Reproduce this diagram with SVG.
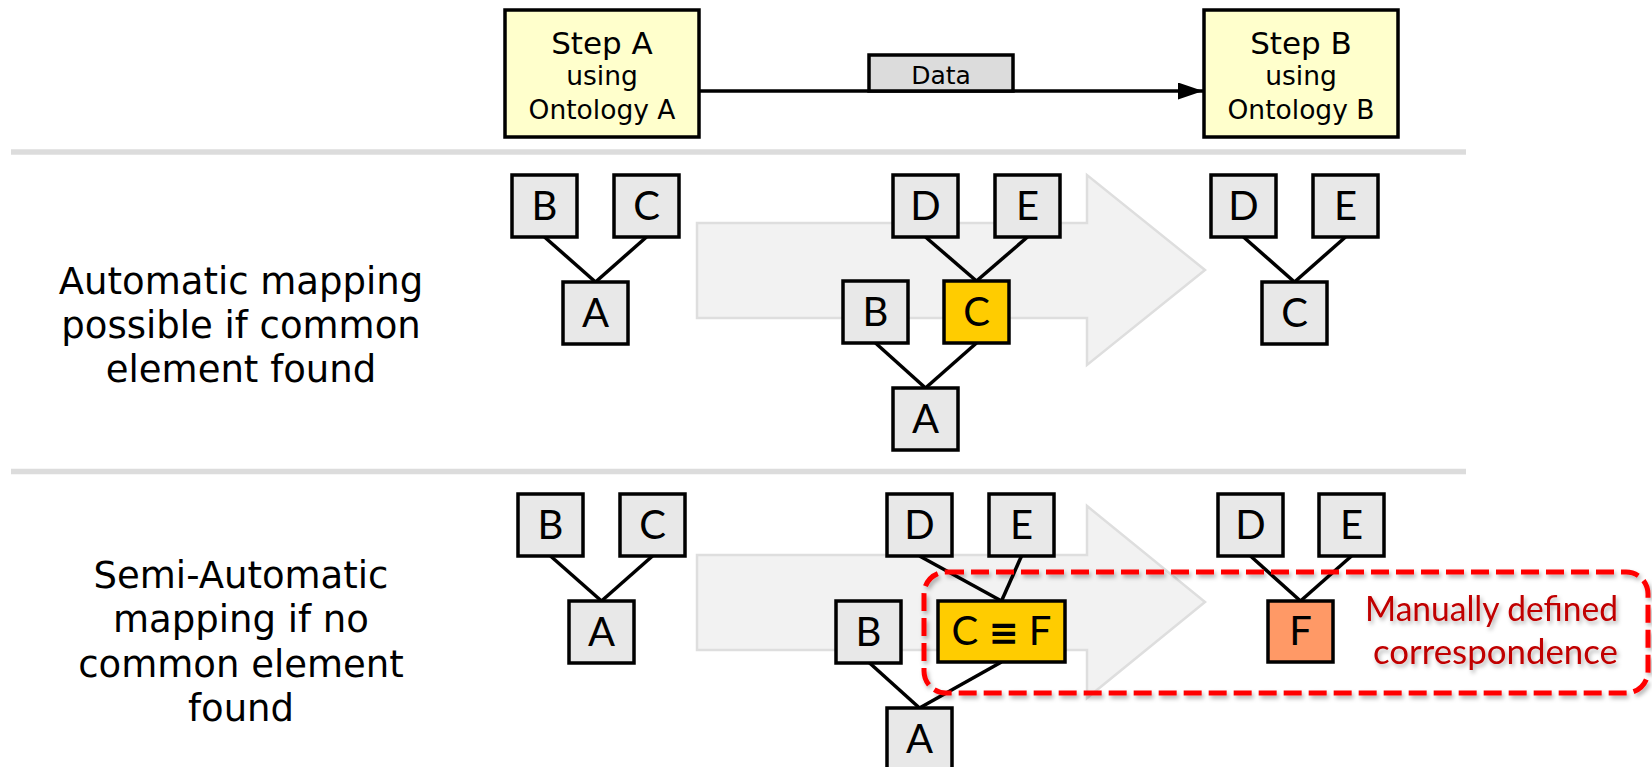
<svg xmlns="http://www.w3.org/2000/svg" width="1652" height="767" viewBox="0 0 1652 767">
<defs>
<style>
.step{fill:#ffffcc;stroke:#000;stroke-width:3.5}
.data{fill:#dcdcdc;stroke:#000;stroke-width:3.5}
.box{fill:#e8e8e8;stroke:#000;stroke-width:3.5}
.yel{fill:#ffcc00;stroke:#000;stroke-width:3.5}
.sal{fill:#ff9966;stroke:#000;stroke-width:3.5}
.sep{stroke:#dcdcdc;stroke-width:5.5}
.big{fill:#f2f2f2;stroke:#dedede;stroke-width:2.5}
.ln{stroke:#000;stroke-width:3.5;fill:none}
.dv{font-family:"DejaVu Sans","Liberation Sans",sans-serif;fill:#000;text-anchor:middle}
.lt{font-family:Lato,"Open Sans","DejaVu Sans",sans-serif;fill:#000;text-anchor:middle;font-size:40px}
.eq{font-family:"DejaVu Sans",sans-serif;font-weight:bold;font-size:36px}
.red{font-family:Lato,"Open Sans","DejaVu Sans",sans-serif;fill:#c00000;text-anchor:end;font-size:34px}
</style>
<marker id="ah" markerWidth="25" markerHeight="17" refX="25" refY="8.5" orient="auto" markerUnits="userSpaceOnUse">
<path d="M0,0 L25,8.5 L0,17 Z" fill="#000"/>
</marker>
<filter id="sh" x="-5%" y="-20%" width="110%" height="140%">
<feDropShadow dx="2" dy="3" stdDeviation="2" flood-color="#000" flood-opacity="0.3"/>
</filter>
</defs>
<rect width="1652" height="767" fill="#fff"/>

<g id="separators">
<line class="sep" x1="11" y1="152" x2="1466" y2="152"/>
<line class="sep" x1="11" y1="471.5" x2="1466" y2="471.5"/>
</g>

<g id="labels">
<text class="dv" font-size="37" x="241" y="294">Automatic mapping</text>
<text class="dv" font-size="37" x="241" y="338">possible if common</text>
<text class="dv" font-size="37" x="241" y="382">element found</text>
<text class="dv" font-size="37" x="241" y="588">Semi-Automatic</text>
<text class="dv" font-size="37" x="241" y="632">mapping if no</text>
<text class="dv" font-size="37" x="241" y="677">common element</text>
<text class="dv" font-size="37" x="241" y="721">found</text>
</g>

<g id="big-arrows">
<polygon class="big" points="697,223 1087,223 1087,175 1205,270 1087,365 1087,318 697,318"/>
<polygon class="big" points="697,555 1087,555 1087,506 1205,602 1087,698 1087,650 697,650"/>
</g>

<g id="connectors">
<line class="ln" x1="699" y1="91" x2="1203" y2="91" marker-end="url(#ah)"/>
<line class="ln" x1="544.5" y1="237" x2="595.5" y2="282"/>
<line class="ln" x1="646.5" y1="237" x2="595.5" y2="282"/>
<line class="ln" x1="925.5" y1="237" x2="976.5" y2="281"/>
<line class="ln" x1="1027.5" y1="237" x2="976.5" y2="281"/>
<line class="ln" x1="875.5" y1="343" x2="925.5" y2="388"/>
<line class="ln" x1="976.5" y1="343" x2="925.5" y2="388"/>
<line class="ln" x1="1243.5" y1="237" x2="1294.5" y2="282"/>
<line class="ln" x1="1345.5" y1="237" x2="1294.5" y2="282"/>
<line class="ln" x1="550.5" y1="556" x2="601.5" y2="601"/>
<line class="ln" x1="652.5" y1="556" x2="601.5" y2="601"/>
<line class="ln" x1="919.5" y1="556" x2="1001.5" y2="601"/>
<line class="ln" x1="1021.5" y1="556" x2="1001.5" y2="601"/>
<line class="ln" x1="868.5" y1="662" x2="919.5" y2="708"/>
<line class="ln" x1="1001.5" y1="662" x2="919.5" y2="708"/>
<line class="ln" x1="1250.5" y1="556" x2="1300.5" y2="601"/>
<line class="ln" x1="1351.5" y1="556" x2="1300.5" y2="601"/>
</g>

<g id="stepA">
<rect class="step" x="505" y="10" width="194" height="127"/>
<text class="dv" font-size="31" x="602" y="54">Step A</text>
<text class="dv" font-size="26.5" x="602" y="85">using</text>
<text class="dv" font-size="26.5" x="602" y="119">Ontology A</text>
</g>
<g id="stepB">
<rect class="step" x="1204" y="10" width="194" height="127"/>
<text class="dv" font-size="31" x="1301" y="54">Step B</text>
<text class="dv" font-size="26.5" x="1301" y="85">using</text>
<text class="dv" font-size="26.5" x="1301" y="119">Ontology B</text>
</g>
<g id="data">
<rect class="data" x="869" y="55" width="144" height="36"/>
<text class="dv" font-size="25" x="941" y="84">Data</text>
</g>

<g id="s2-left">
<g id="s2l-B"><rect class="box" x="512" y="175" width="65" height="62"/><text class="lt" x="544.5" y="220">B</text></g>
<g id="s2l-C"><rect class="box" x="614" y="175" width="65" height="62"/><text class="lt" x="646.5" y="220">C</text></g>
<g id="s2l-A"><rect class="box" x="563" y="282" width="65" height="62"/><text class="lt" x="595.5" y="327">A</text></g>
</g>
<g id="s2-mid">
<g id="s2m-D"><rect class="box" x="893" y="175" width="65" height="62"/><text class="lt" x="925.5" y="220">D</text></g>
<g id="s2m-E"><rect class="box" x="995" y="175" width="65" height="62"/><text class="lt" x="1027.5" y="220">E</text></g>
<g id="s2m-B"><rect class="box" x="843" y="281" width="65" height="62"/><text class="lt" x="875.5" y="326">B</text></g>
<g id="s2m-C"><rect class="yel" x="944" y="281" width="65" height="62"/><text class="lt" x="976.5" y="326">C</text></g>
<g id="s2m-A"><rect class="box" x="893" y="388" width="65" height="62"/><text class="lt" x="925.5" y="433">A</text></g>
</g>
<g id="s2-right">
<g id="s2r-D"><rect class="box" x="1211" y="175" width="65" height="62"/><text class="lt" x="1243.5" y="220">D</text></g>
<g id="s2r-E"><rect class="box" x="1313" y="175" width="65" height="62"/><text class="lt" x="1345.5" y="220">E</text></g>
<g id="s2r-C"><rect class="box" x="1262" y="282" width="65" height="62"/><text class="lt" x="1294.5" y="327">C</text></g>
</g>

<g id="s3-left">
<g id="s3l-B"><rect class="box" x="518" y="494" width="65" height="62"/><text class="lt" x="550.5" y="539">B</text></g>
<g id="s3l-C"><rect class="box" x="620" y="494" width="65" height="62"/><text class="lt" x="652.5" y="539">C</text></g>
<g id="s3l-A"><rect class="box" x="569" y="601" width="65" height="62"/><text class="lt" x="601.5" y="646">A</text></g>
</g>
<g id="s3-mid">
<g id="s3m-D"><rect class="box" x="887" y="494" width="65" height="62"/><text class="lt" x="919.5" y="539">D</text></g>
<g id="s3m-E"><rect class="box" x="989" y="494" width="65" height="62"/><text class="lt" x="1021.5" y="539">E</text></g>
<g id="s3m-B"><rect class="box" x="836" y="601" width="65" height="62"/><text class="lt" x="868.5" y="646">B</text></g>
<g id="s3m-CF"><rect class="yel" x="938" y="601" width="127" height="61"/><text class="lt" x="1001.5" y="645">C <tspan class="eq">≡</tspan> F</text></g>
<g id="s3m-A"><rect class="box" x="887" y="708" width="65" height="62"/><text class="lt" x="919.5" y="753">A</text></g>
</g>
<g id="s3-right">
<g id="s3r-D"><rect class="box" x="1218" y="494" width="65" height="62"/><text class="lt" x="1250.5" y="539">D</text></g>
<g id="s3r-E"><rect class="box" x="1319" y="494" width="65" height="62"/><text class="lt" x="1351.5" y="539">E</text></g>
<g id="s3r-F"><rect class="sal" x="1268" y="601" width="65" height="61"/><text class="lt" x="1300.5" y="645">F</text></g>
</g>

<g id="manual-correspondence" filter="url(#sh)">
<rect x="924" y="572" width="724" height="121" rx="22" ry="22" fill="none" stroke="#ff0000" stroke-width="5" stroke-dasharray="18 7"/>
<text class="red" x="1618" y="621" textLength="253" lengthAdjust="spacingAndGlyphs">Manually defined</text>
<text class="red" x="1618" y="664" textLength="245" lengthAdjust="spacingAndGlyphs">correspondence</text>
</g>
</svg>
